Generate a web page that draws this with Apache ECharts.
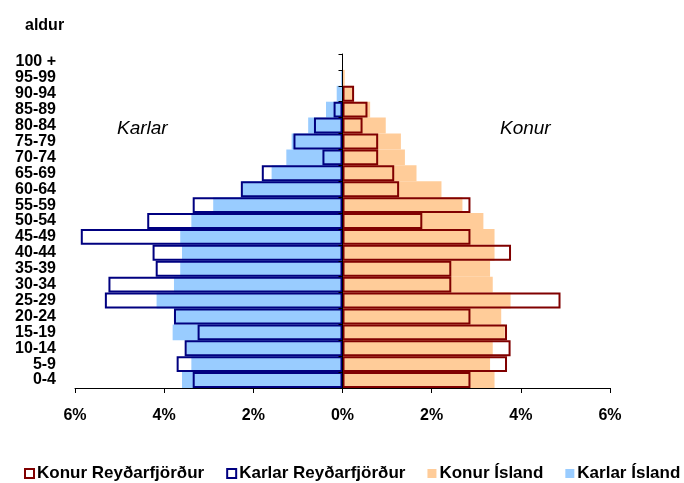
<!DOCTYPE html>
<html>
<head>
<meta charset="utf-8">
<script src="https://cdn.jsdelivr.net/npm/echarts@6/dist/echarts.min.js"></script>
<style>
html,body{margin:0;padding:0;background:#fff;}
#c{width:684px;height:483px;}
</style>
</head>
<body>
<div id="c"></div>
<script>
// Age groups, bottom to top
var ageGroups = ['0-4','5-9','10-14','15-19','20-24','25-29','30-34','35-39','40-44','45-49','50-54','55-59','60-64','65-69','70-74','75-79','80-84','85-89','90-94','95-99','100 +'];
// Percent of population
var konurReydarfjordur = [2.87,3.69,3.77,3.69,2.87,4.89,2.44,2.44,3.78,2.87,1.79,2.87,1.27,1.16,0.80,0.80,0.45,0.56,0.26,0,0];
var karlarReydarfjordur = [3.36,3.72,3.54,3.25,3.78,5.33,5.25,4.19,4.26,5.87,4.38,3.36,2.28,1.81,0.45,1.10,0.64,0.20,0,0,0];
var konurIsland = [3.41,3.31,3.37,3.64,3.56,3.77,3.37,3.31,3.41,3.41,3.16,2.69,2.22,1.66,1.40,1.31,0.97,0.62,0.25,0.05,0.01];
var karlarIsland = [3.60,3.39,3.50,3.81,3.78,4.17,3.78,3.64,3.60,3.64,3.39,2.90,2.25,1.59,1.26,1.14,0.77,0.37,0.13,0.03,0.01];
var xTicks = [-6,-4,-2,0,2,4,6];

function pos(a){ return a.map(function(v){ return v === 0 ? '-' : v; }); }
function neg(a){ return a.map(function(v){ return v === 0 ? '-' : -v; }); }

var font = '"Liberation Sans", Arial, sans-serif';
var chart = echarts.init(document.getElementById('c'), null, {renderer:'canvas'});
chart.setOption({
  animation:false,
  textStyle:{fontFamily:font},
  grid:{left:75, right:74, top:54, bottom:95},
  graphic:[
    {type:'text', left:25, top:18, style:{text:'aldur', font:'bold 16px '+font, fill:'#000'}},
    {type:'text', left:117, top:119, style:{text:'Karlar', font:'italic 19px '+font, fill:'#000'}},
    {type:'text', left:500, top:119, style:{text:'Konur', font:'italic 19px '+font, fill:'#000'}}
  ],
  legend:{
    top:465, left:24, width:660, padding:0, itemWidth:9, itemHeight:9, itemGap:22,
    textStyle:{fontFamily:font, fontSize:17, fontWeight:'bold', color:'#000', padding:[0,0,0,-2]},
    data:[
      {name:'Konur Reyðarfjörður', icon:'rect'},
      {name:'Karlar Reyðarfjörður', icon:'rect'},
      {name:'Konur Ísland', icon:'rect'},
      {name:'Karlar Ísland', icon:'rect'}
    ]
  },
  xAxis:{
    type:'value', min:xTicks[0], max:xTicks[xTicks.length-1], interval:2,
    axisLine:{show:true, onZero:false, lineStyle:{color:'#000', width:1}},
    axisTick:{show:true, length:5, lineStyle:{color:'#000'}},
    splitLine:{show:false},
    axisLabel:{margin:20, color:'#000', fontSize:16, fontWeight:'bold', fontFamily:font,
      formatter:function(v){ return Math.abs(v)+'%'; }}
  },
  yAxis:[
    {type:'category', data:ageGroups, z:5,
     axisLine:{show:true, onZero:true, lineStyle:{color:'#000', width:1}},
     axisTick:{show:true, length:4, interval:0, lineStyle:{color:'#000'}},
     axisLabel:{show:false}},
    {type:'category', data:ageGroups, position:'left',
     axisLine:{show:false}, axisTick:{show:false},
     axisLabel:{interval:0, margin:19, color:'#000', fontSize:16, fontWeight:'bold', fontFamily:font, lineHeight:16}}
  ],
  series:[
    {name:'Konur Ísland', type:'bar', yAxisIndex:0, data:pos(konurIsland),
     barCategoryGap:'0%', barGap:'-100%', itemStyle:{color:'#FFCC99'}, z:2},
    {name:'Karlar Ísland', type:'bar', yAxisIndex:0, data:neg(karlarIsland),
     barCategoryGap:'0%', barGap:'-100%', itemStyle:{color:'#99CCFF'}, z:2},
    {name:'Konur Reyðarfjörður', type:'bar', yAxisIndex:0, data:pos(konurReydarfjordur),
     barCategoryGap:'0%', barGap:'-100%',
     itemStyle:{color:'rgba(255,255,255,0)', borderColor:'#800000', borderWidth:2}, z:3},
    {name:'Karlar Reyðarfjörður', type:'bar', yAxisIndex:0, data:neg(karlarReydarfjordur),
     barCategoryGap:'0%', barGap:'-100%',
     itemStyle:{color:'rgba(255,255,255,0)', borderColor:'#000080', borderWidth:2}, z:3}
  ]
});
</script>
</body>
</html>
